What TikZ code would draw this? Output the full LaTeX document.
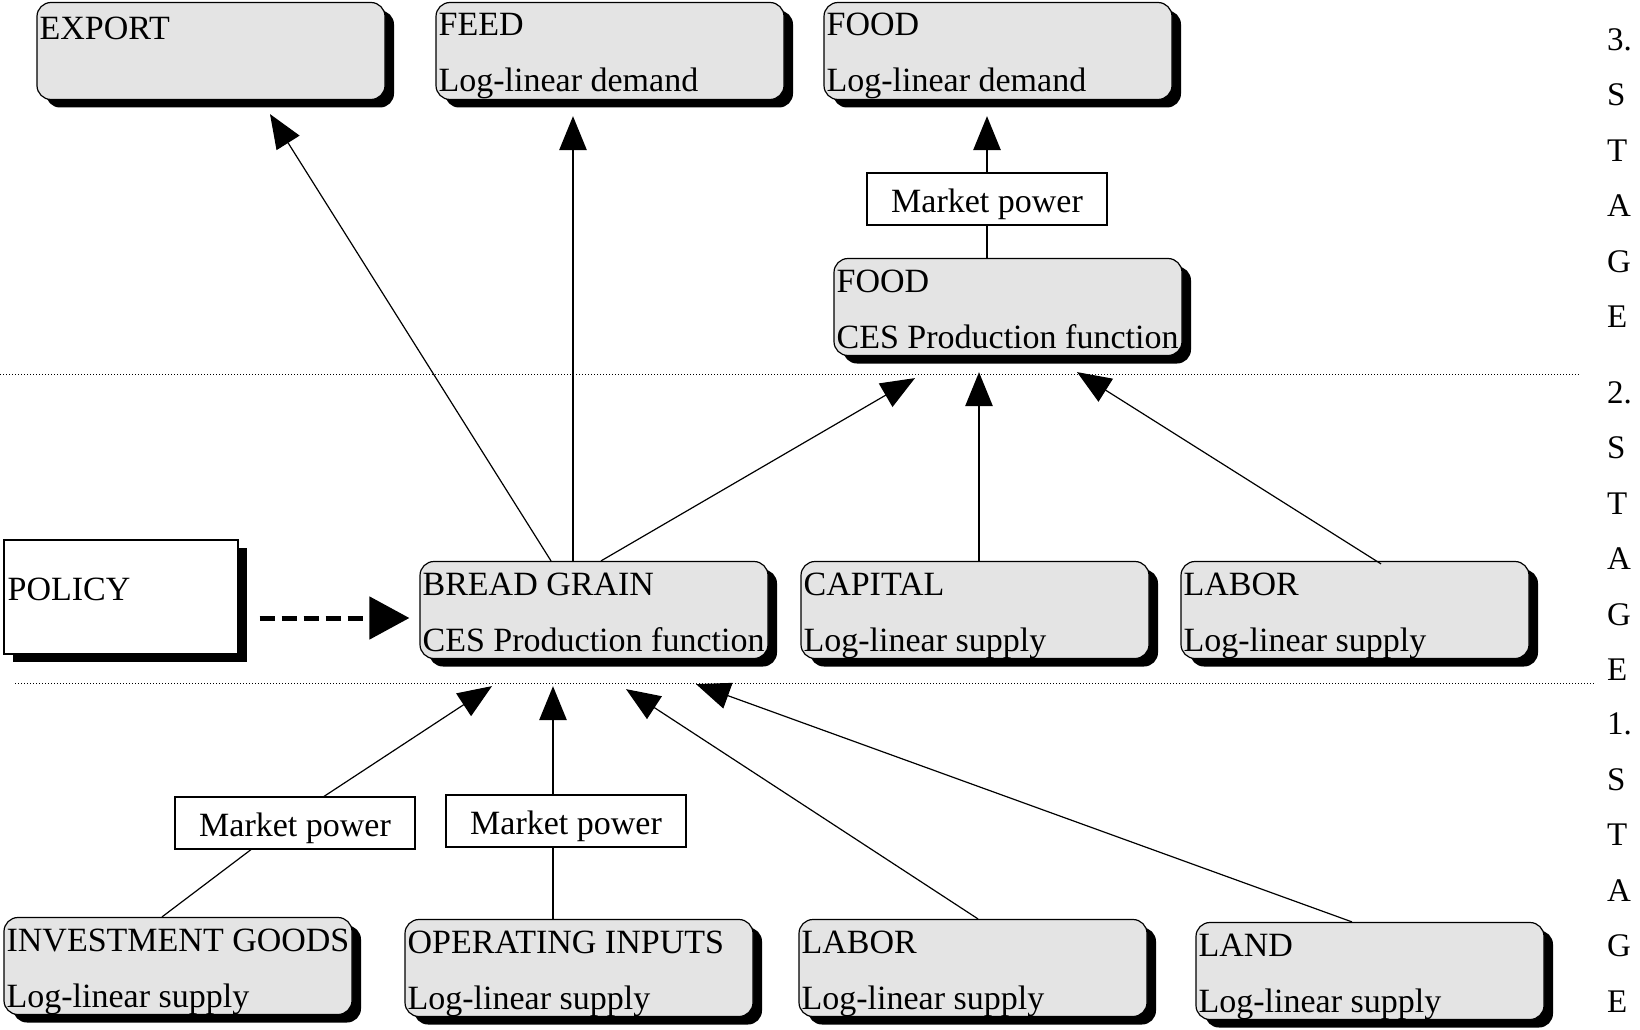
\documentclass[tikz,border=0pt]{standalone}
\usepackage{fontspec}
\setmainfont{Liberation Serif}
\usepackage{tikz}
\usetikzlibrary{positioning,arrows.meta,shadows}
\definecolor{boxgray}{HTML}{E4E4E4}

\begin{document}
\begin{tikzpicture}[
    x=1pt, y=-1pt,
    font=\fontsize{34}{56}\selectfont,
    box/.style={draw, line width=1.2pt, rounded corners=14pt, fill=boxgray,
                minimum width=348pt, minimum height=97pt, inner sep=0pt,
                drop shadow={shadow xshift=9pt, shadow yshift=-8pt, fill=black, opacity=1}},
    policybox/.style={draw, line width=1.2pt, fill=white,
                minimum width=234pt, minimum height=114pt, inner sep=0pt,
                drop shadow={shadow xshift=9pt, shadow yshift=-8pt, fill=black, opacity=1}},
    txt/.style={anchor=north west, align=left, inner sep=0pt},
    stagetxt/.style={anchor=north west, align=left, inner sep=0pt,
                font=\fontsize{33}{55.5}\selectfont},
    mpbox/.style={draw, line width=1.2pt, fill=white, minimum width=240pt,
                minimum height=52pt, inner sep=0pt, text height=26pt, text depth=0pt},
    arr/.style={-{Triangle[length=34pt, width=27pt]}, line width=1.2pt},
    arrthick/.style={arr, line width=2.8pt},
    lnk/.style={line width=1.2pt},
    lnkthick/.style={line width=2.8pt},
    dasharr/.style={-{Triangle[length=40pt, width=42pt]}, line width=5pt,
                dash pattern=on 15pt off 7pt},
    sep/.style={dotted, line width=1pt}
  ]
    \useasboundingbox (0,0) rectangle (1640,1030);

    \draw[sep] (0,374) -- (1580,374);
    \draw[sep] (15,683) -- (1595,683);

    \node[box] (export) at (211,51) {};
    \node[txt] (exporttxt) at ([xshift=3pt, yshift=-15pt]export.north west) {EXPORT};
    \node[box] (feed) at (610,51) {};
    \node[txt] (feedtxt) at ([xshift=3pt, yshift=-11pt]feed.north west) {FEED\\Log-linear demand};
    \node[box] (foodd) at (998,51) {};
    \node[txt] (foodtxt) at ([xshift=3pt, yshift=-11pt]foodd.north west) {FOOD\\Log-linear demand};
    \node[mpbox] (mpfood) at (987,199) {Market power};
    \node[box] (foodces) at (1008,307) {};
    \node[txt] (foodcestxt) at ([xshift=3pt, yshift=-12pt]foodces.north west) {FOOD\\CES Production function};

    \node[policybox] (policy) at (121,597) {};
    \node[txt] (policytxt) at ([xshift=4pt, yshift=-38pt]policy.north west) {POLICY};
    \node[box] (bread) at (594,610) {};
    \node[txt] (breadtxt) at ([xshift=3pt, yshift=-12pt]bread.north west) {BREAD GRAIN\\CES Production function};
    \node[box] (capital) at (975,610) {};
    \node[txt] (capitaltxt) at ([xshift=3pt, yshift=-12pt]capital.north west) {CAPITAL\\Log-linear supply};
    \node[box] (labortwo) at (1355,610) {};
    \node[txt] (labortwotxt) at ([xshift=3pt, yshift=-12pt]labortwo.north west) {LABOR\\Log-linear supply};

    \node[mpbox] (mpinv) at (295,823) {Market power};
    \node[mpbox] (mpop) at (566,821) {Market power};
    \node[box] (invest) at (178,966) {};
    \node[txt] (investtxt) at ([xshift=3pt, yshift=-12pt]invest.north west) {INVESTMENT GOODS\\Log-linear supply};
    \node[box] (operating) at (579,968) {};
    \node[txt] (operatingtxt) at ([xshift=3pt, yshift=-12pt]operating.north west) {OPERATING INPUTS\\Log-linear supply};
    \node[box] (laborone) at (973,968) {};
    \node[txt] (laboronetxt) at ([xshift=3pt, yshift=-12pt]laborone.north west) {LABOR\\Log-linear supply};
    \node[box] (land) at (1370,971) {};
    \node[txt] (landtxt) at ([xshift=3pt, yshift=-12pt]land.north west) {LAND\\Log-linear supply};

    \node[stagetxt] (stagethree) at (1607,28) {3.\\S\\T\\A\\G\\E};
    \node[stagetxt] (stagetwo) at (1607,381) {2.\\S\\T\\A\\G\\E};
    \node[stagetxt] (stageone) at (1607,713) {1.\\S\\T\\A\\G\\E};

    \draw[arr] ([xshift=-43pt]bread.north) -- ([xshift=59pt, yshift=-14pt]export.south);
    \draw[arrthick] ([xshift=-21pt]bread.north) -- ([xshift=-37pt, yshift=-16pt]feed.south);
    \draw[arr] ([xshift=7pt]bread.north) -- ([xshift=-93pt, yshift=-22pt]foodces.south);
    \draw[arrthick] ([xshift=4pt]capital.north) -- ([xshift=-29pt, yshift=-16pt]foodces.south);
    \draw[arr] ([xshift=26pt, yshift=-3pt]labortwo.north) -- ([xshift=69pt, yshift=-16pt]foodces.south);
    \draw[lnkthick] ([xshift=-21pt]foodces.north) -- (mpfood.south);
    \draw[arrthick] (mpfood.north) -- ([xshift=-11pt, yshift=-16pt]foodd.south);

    \draw[dasharr] ([xshift=21pt, yshift=-21pt]policy.east) -- ([xshift=-10pt, yshift=-8pt]bread.west);

    \draw[lnk] ([xshift=-16pt]invest.north) -- ([xshift=-44pt]mpinv.south);
    \draw[arr] ([xshift=29pt]mpinv.north) -- ([xshift=-102pt, yshift=-27pt]bread.south);
    \draw[lnkthick] ([xshift=-26pt]operating.north) -- ([xshift=-13pt]mpop.south);
    \draw[arrthick] ([xshift=-13pt]mpop.north) -- ([xshift=-41pt, yshift=-27pt]bread.south);
    \draw[arr] ([xshift=5pt]laborone.north) -- ([xshift=32pt, yshift=-30pt]bread.south);
    \draw[arr] ([xshift=-18pt]land.north) -- ([xshift=102pt, yshift=-25pt]bread.south);
  \end{tikzpicture}
\end{document}
